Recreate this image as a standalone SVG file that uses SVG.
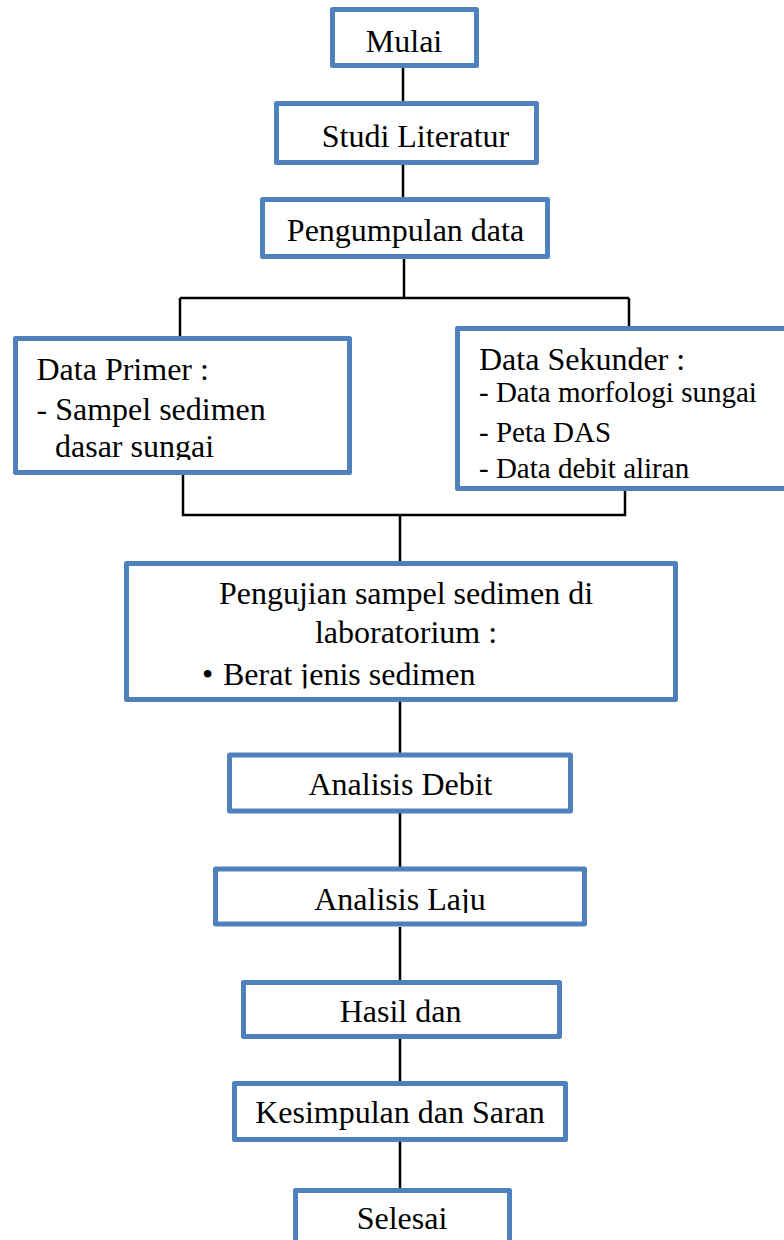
<svg xmlns="http://www.w3.org/2000/svg" width="784" height="1240" viewBox="0 0 784 1240">
<style>
.box{fill:#fff;stroke:#4F81BD;stroke-width:5;stroke-linejoin:round}
text{font-family:'Liberation Serif','Times New Roman',Times,'DejaVu Serif',serif;font-size:32px;fill:#000}
.s{font-size:29px}
.m{text-anchor:middle}
.c{fill:none;stroke:#000;stroke-width:2.5;stroke-linecap:butt}
</style>
<defs>
<clipPath id="cp1"><rect x="0" y="0" width="784" height="460"/></clipPath>
<clipPath id="cp2"><rect x="0" y="0" width="784" height="480.5"/></clipPath>
<clipPath id="cp3"><rect x="0" y="0" width="784" height="688.5"/></clipPath>
<clipPath id="cp4"><rect x="0" y="0" width="784" height="913"/></clipPath>
</defs>
<rect width="784" height="1240" fill="#fff"/>
<g id="connectors">
<path class="c" d="M403 68V101M403 165V197M404 259V298M180 298H629M180 298V336M629 298V327M183 475V515H625V491M400 515V561M400 702V753M400 813V867M400 927V980M400 1039V1081M400 1142V1188"/>
</g>
<g id="mulai"><rect class="box" x="332.5" y="9.5" width="144" height="56"/><text class="m" x="404" y="52">Mulai</text></g>
<g id="studi"><rect class="box" x="276.5" y="103.5" width="260" height="59"/><text class="m" x="415.5" y="147">Studi Literatur</text></g>
<g id="pengumpulan"><rect class="box" x="262.5" y="199.5" width="285" height="57"/><text class="m" x="405.5" y="241">Pengumpulan data</text></g>
<g id="primer"><rect class="box" x="15.5" y="338.5" width="334" height="134"/>
<text x="36.5" y="380">Data Primer :</text>
<text x="36.5" y="419.5">- Sampel sedimen</text>
<text x="55" y="456.5" clip-path="url(#cp1)">dasar sungai</text></g>
<g id="sekunder"><rect class="box" x="457.5" y="328.5" width="340" height="160"/>
<text x="479" y="370">Data Sekunder :</text>
<text class="s" x="479" y="402">- Data morfologi sungai</text>
<text class="s" x="479" y="442">- Peta DAS</text>
<text class="s" x="479" y="478" clip-path="url(#cp2)">- Data debit aliran</text></g>
<g id="pengujian"><rect class="box" x="126.5" y="563.5" width="549" height="136"/>
<text class="m" x="406" y="604">Pengujian sampel sedimen di</text>
<text class="m" x="406" y="643">laboratorium :</text>
<text x="202" y="685" clip-path="url(#cp3)">•</text>
<text x="223" y="685" clip-path="url(#cp3)">Berat jenis sedimen</text></g>
<g id="debit"><rect class="box" x="229.5" y="755" width="341" height="56"/><text class="m" x="400.5" y="795">Analisis Debit</text></g>
<g id="laju"><rect class="box" x="215.5" y="869" width="369" height="55"/><text class="m" x="400" y="910" clip-path="url(#cp4)">Analisis Laju</text></g>
<g id="hasil"><rect class="box" x="243.5" y="982.5" width="316" height="54"/><text class="m" x="400.5" y="1022">Hasil dan</text></g>
<g id="kesimpulan"><rect class="box" x="234.5" y="1083.5" width="331" height="56"/><text class="m" x="400" y="1123">Kesimpulan dan Saran</text></g>
<g id="selesai"><rect class="box" x="295.5" y="1190.5" width="214" height="80"/><text class="m" x="402" y="1229">Selesai</text></g>
</svg>
